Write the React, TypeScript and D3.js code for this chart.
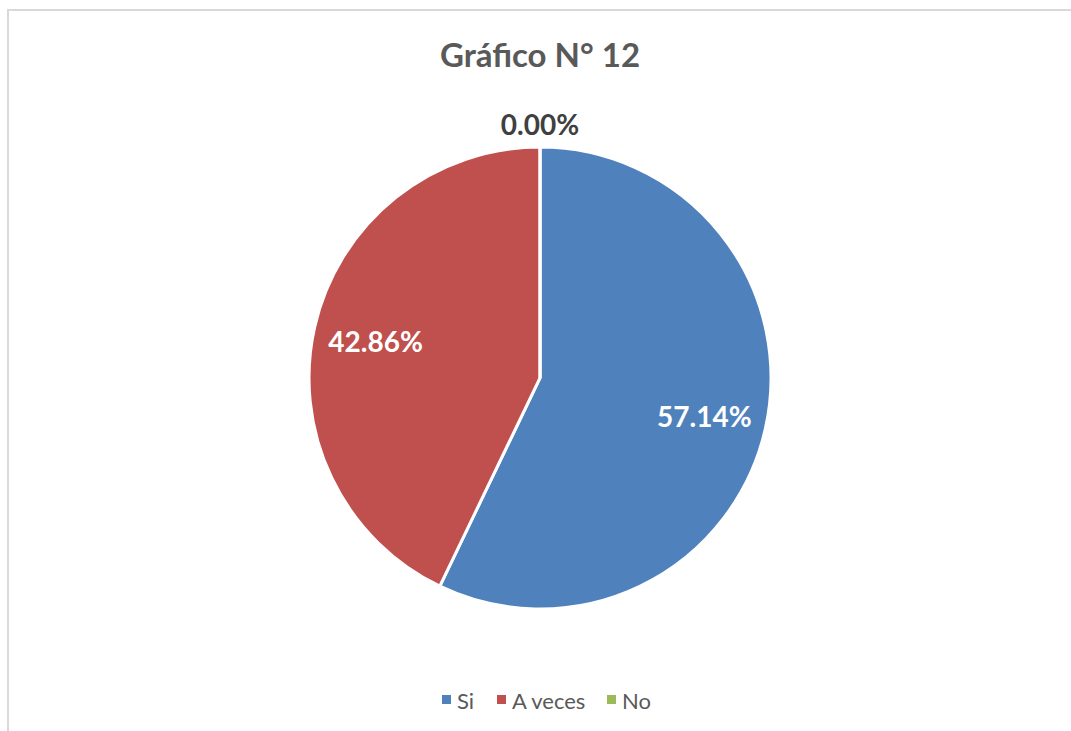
import * as d3 from 'd3'
import React from 'react'

const categories = ['Si', 'A veces', 'No']
const values = [57.14, 42.86, 0]
const colors = ['#4f81bd', '#c0504d', '#9bbb59']
const title = 'Gráfico N° 12'

const width = 1071
const height = 731
const cx = 540
const cy = 378
const radius = 231

export default function App() {
  const pie = d3
    .pie<number>()
    .sort(null)
    .value(d => d)
  const arcs = pie(values)

  const arc = d3.arc<d3.PieArcDatum<number>>().innerRadius(0).outerRadius(radius)
  const labelArc = d3
    .arc<d3.PieArcDatum<number>>()
    .innerRadius(radius * 0.73)
    .outerRadius(radius * 0.73)
  const outerArc = d3
    .arc<d3.PieArcDatum<number>>()
    .innerRadius(radius * 1.1)
    .outerRadius(radius * 1.1)

  // legend marker x positions
  const legendX = [442, 497, 607]

  return (
    <svg
      width={width}
      height={height}
      style={{ position: 'absolute', left: 0, top: 0 }}
      fontFamily="Lato, 'Open Sans', sans-serif"
    >
      <rect x={0} y={0} width={width} height={height} fill="#fff" />
      <rect x={8} y={10} width={width + 20} height={height + 20} fill="#fff" stroke="#d9d9d9" strokeWidth={2} />

      <text x={cx} y={67} textAnchor="middle" fontSize={33} fontWeight={700} fill="#595959">
        {title}
      </text>

      <g transform={`translate(${cx}, ${cy})`}>
        {arcs.map((a, i) => (
          <path key={categories[i]} d={arc(a) ?? ''} fill={colors[i]} stroke="#fff" strokeWidth={3} />
        ))}
        {arcs.map((a, i) => {
          const inside = a.data > 0
          const [x, y] = inside ? labelArc.centroid(a) : outerArc.centroid(a)
          return (
            <text
              key={`l-${categories[i]}`}
              x={x}
              y={y}
              textAnchor="middle"
              dominantBaseline="central"
              fontSize={28}
              fontWeight={700}
              fill={inside ? '#fff' : '#404040'}
            >
              {`${values[i].toFixed(2)}%`}
            </text>
          )
        })}
      </g>

      {categories.map((c, i) => (
        <g key={`lg-${c}`} transform={`translate(${legendX[i]}, 700)`}>
          <rect x={0} y={-5} width={9} height={9} fill={colors[i]} />
          <text x={15} y={0} dominantBaseline="central" fontSize={22} fill="#595959">
            {c}
          </text>
        </g>
      ))}
    </svg>
  )
}
